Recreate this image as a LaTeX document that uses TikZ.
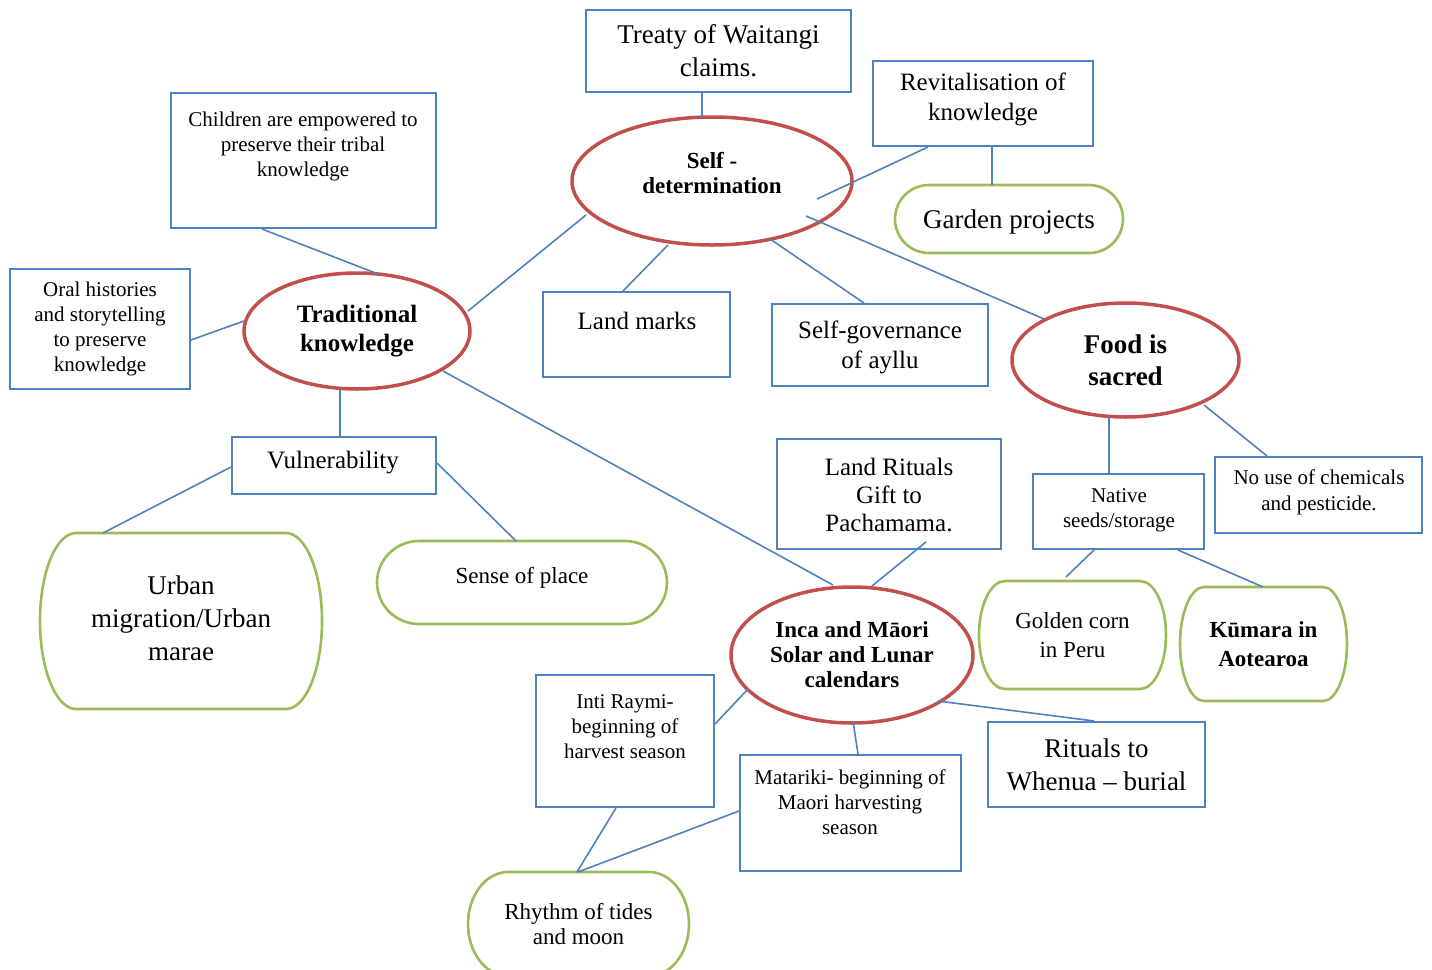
\documentclass[tikz,border=0pt]{standalone}
\usepackage{fontspec}
\setmainfont{Liberation Serif}
\usetikzlibrary{shapes.geometric}
\definecolor{lineblue}{HTML}{4F81BD}
\definecolor{ovalred}{HTML}{C0504D}
\definecolor{pillgreen}{HTML}{9BBB59}
\tikzset{
  box/.style={draw=lineblue, line width=1pt, rectangle, inner sep=0pt, align=center, fill=white},
  oval/.style={draw=ovalred, line width=1.75pt, ellipse, inner sep=0pt, align=center, fill=white},
  pill/.style={rectangle, inner sep=0pt, outer sep=0pt, align=center},
  pillline/.style={draw=pillgreen, line width=1.3pt},
  txt/.style={inner sep=0pt, align=center},
  link/.style={draw=lineblue, line width=0.8pt},
  fsmall/.style={font=\fontsize{10.5}{12.5}\selectfont},
  fmid/.style={font=\fontsize{12.5}{15}\selectfont},
  flarge/.style={font=\fontsize{13.5}{16.5}\selectfont},
}
% outline of a green rounded shape: flat top and bottom, half-ellipse ends
% #1 node name, #2 horizontal radius of the ends, #3 half the height
\newcommand\greenoutline[3]{%
  \draw[pillline] ([xshift=#2]#1.north west) -- ([xshift=-#2]#1.north east)
    arc[start angle=90, end angle=-90, x radius=#2, y radius=#3]
    -- ([xshift=#2]#1.south west)
    arc[start angle=270, end angle=90, x radius=#2, y radius=#3] -- cycle;}
\begin{document}
\begin{tikzpicture}[x=0.5pt, y=-0.5pt]
\useasboundingbox (0,0) rectangle (1432,970);

% ---------------- rectangles ----------------
\node[box, flarge, minimum width=132.5pt, minimum height=41pt] (treaty) at (718.5,51) {Treaty of Waitangi\\claims.};
\node[box, minimum width=110pt, minimum height=42.5pt] (revit) at (983,103.5) {};
\node[txt, fmid] (revittxt) at (983,99) {Revitalisation of\\knowledge};
\node[box, minimum width=132.5pt, minimum height=67.5pt] (children) at (303.5,160.5) {};
\node[txt, fsmall] (childrentxt) at (303,146) {Children are empowered to\\preserve their tribal\\knowledge};
\node[box, fsmall, minimum width=90pt, minimum height=60pt] (oral) at (100,329) {Oral histories\\and storytelling\\to preserve\\knowledge};
\node[box, minimum width=93.5pt, minimum height=42.5pt] (landmarks) at (636.5,334.5) {};
\node[txt, fmid] (landmarkstxt) at (637,321) {Land marks};
\node[box, minimum width=108pt, minimum height=41pt] (selfgov) at (880,345) {};
\node[txt, fmid] (selfgovtxt) at (880,347) {Self-governance\\of ayllu};
\node[box, minimum width=102pt, minimum height=28.5pt] (vuln) at (334,465.5) {};
\node[txt, fmid] (vulntxt) at (333,463) {Vulnerability};
\node[box, minimum width=112pt, minimum height=55pt] (rituals) at (889,494) {};
\node[txt, font=\fontsize{12.5}{14}\selectfont] (ritualstxt) at (889,495) {Land Rituals\\Gift to\\Pachamama.};
\node[box, minimum width=85.5pt, minimum height=37.5pt] (native) at (1118.5,511.5) {};
\node[txt, fsmall] (nativetxt) at (1119,510) {Native\\seeds/storage};
\node[box, minimum width=103.5pt, minimum height=38pt] (nouse) at (1318.5,495) {};
\node[txt, font=\fontsize{10.5}{13}\selectfont] (nousetxt) at (1319,492) {No use of chemicals\\and pesticide.};
\node[box, minimum width=89pt, minimum height=66pt] (inti) at (625,741) {};
\node[txt, fsmall] (intitxt) at (625,727) {Inti Raymi-\\beginning of\\harvest season};
\node[box, minimum width=110.5pt, minimum height=58pt] (matariki) at (850.5,813) {};
\node[txt, fsmall] (matarikitxt) at (850,802) {Matariki- beginning of\\Maori harvesting\\season};
\node[box, flarge, minimum width=108.5pt, minimum height=42.5pt] (whenua) at (1096.5,764.5) {Rituals to\\Whenua -- burial};

% ---------------- ovals ----------------
\node[oval, minimum width=140pt, minimum height=64pt] (selfdet) at (712,181) {};
\node[txt, font=\fontsize{11.5}{12.5}\selectfont\bfseries] (selfdettxt) at (712,173) {Self -\\determination};
\node[oval, font=\fontsize{12.5}{14.5}\selectfont\bfseries, minimum width=113pt, minimum height=58pt] (trad) at (357,331) {Traditional\\knowledge};
\node[oval, font=\fontsize{13.5}{16}\selectfont\bfseries, minimum width=113.5pt, minimum height=57pt] (food) at (1125.5,360) {Food is\\sacred};
\node[oval, font=\fontsize{11.5}{12.5}\selectfont\bfseries, minimum width=121pt, minimum height=68pt] (inca) at (852,655) {Inca and Māori\\Solar and Lunar\\calendars};

% ---------------- rounded green shapes ----------------
\node[pill, minimum width=114pt, minimum height=34pt] (garden) at (1009,219) {};
\node[txt, flarge] (gardentxt) at (1009,222) {Garden projects};
\greenoutline{garden}{17pt}{17pt}
\node[pill, minimum width=141pt, minimum height=88pt] (urban) at (181,621) {};
\node[txt, flarge] (urbantxt) at (181,618) {Urban\\migration/Urban\\marae};
\greenoutline{urban}{18pt}{44pt}
\node[pill, font=\fontsize{11.5}{14}\selectfont, minimum width=145pt, minimum height=41.5pt] (sense) at (522,582.5) {};
\node[txt, font=\fontsize{11.5}{14}\selectfont] (sensetxt) at (522,578) {Sense of place};
\greenoutline{sense}{21pt}{20.75pt}
\node[pill, font=\fontsize{11.5}{14.5}\selectfont, minimum width=93.5pt, minimum height=54pt] (golden) at (1072.5,635) {Golden corn\\in Peru};
\greenoutline{golden}{13pt}{27pt}
\node[pill, font=\fontsize{11.5}{14.5}\selectfont\bfseries, minimum width=83.5pt, minimum height=57pt] (kumara) at (1263.5,644) {Kūmara in\\Aotearoa};
\greenoutline{kumara}{12pt}{28.5pt}
\node[pill, font=\fontsize{11.5}{12.5}\selectfont, minimum width=110.5pt, minimum height=52pt] (rhythm) at (578.5,924) {Rhythm of tides\\and moon};
\greenoutline{rhythm}{20pt}{26pt}

% ---------------- connectors ----------------
\draw[link] ([xshift=-8.25pt]treaty.south) -- ([shift={(-10,-64)}]selfdet.center);
\draw[link] ([xshift=-27.5pt]revit.south) -- ([shift={(105,18)}]selfdet.center);
\draw[link] ([xshift=4.5pt]revit.south) -- ([xshift=-8.5pt]garden.north);
\draw[link] ([shift={(94,35)}]selfdet.center) -- ([shift={(-81.5,-41)}]food.center);
\draw[link] ([shift={(-44,64)}]selfdet.center) -- ([xshift=-6.75pt]landmarks.north);
\draw[link] ([shift={(58,58)}]selfdet.center) -- ([xshift=-8pt]selfgov.north);
\draw[link] ([shift={(-126,34)}]selfdet.center) -- ([shift={(111,-20)}]trad.center);
\draw[link] ([xshift=-20.75pt]children.south) -- ([shift={(21,-57)}]trad.center);
\draw[link] ([yshift=-5.5pt]oral.east) -- ([shift={(-113,-10)}]trad.center);
\draw[link] ([shift={(-17,58)}]trad.center) -- ([xshift=3pt]vuln.north);
\draw[link] ([shift={(86,40)}]trad.center) -- ([shift={(-19,-70)}]inca.center);
\draw[link] ([yshift=-0.75pt]vuln.west) -- ([xshift=-39pt]urban.north);
\draw[link] ([yshift=1.25pt]vuln.east) -- ([xshift=-3pt]sense.north);
\draw[link] ([shift={(37,48)}]rituals.center) -- ([shift={(20,-69)}]inca.center);
\draw[link] ([shift={(-16.5,57)}]food.center) -- ([xshift=-4.75pt]native.north);
\draw[link] ([shift={(78.5,45)}]food.center) -- ([xshift=-25.75pt]nouse.north);
\draw[link] ([xshift=-12.25pt]native.south) -- ([shift={(-6.5,-58)}]golden.center);
\draw[link] ([xshift=29.75pt]native.south) -- ([xshift=-0.25pt]kumara.north);
\draw[link] ([shift={(-104,34)}]inca.center) -- ([yshift=8.5pt]inti.east);
\draw[link] ([shift={(1,66)}]inca.center) -- ([xshift=3.75pt]matariki.north);
\draw[link] ([shift={(86,46)}]inca.center) -- ([xshift=-1.25pt]whenua.north);
\draw[link] ([xshift=-4.5pt]inti.south) -- ([xshift=-0.75pt]rhythm.north);
\draw[link] ([yshift=1pt]matariki.west) -- ([xshift=-0.25pt]rhythm.north);
\end{tikzpicture}
\end{document}
